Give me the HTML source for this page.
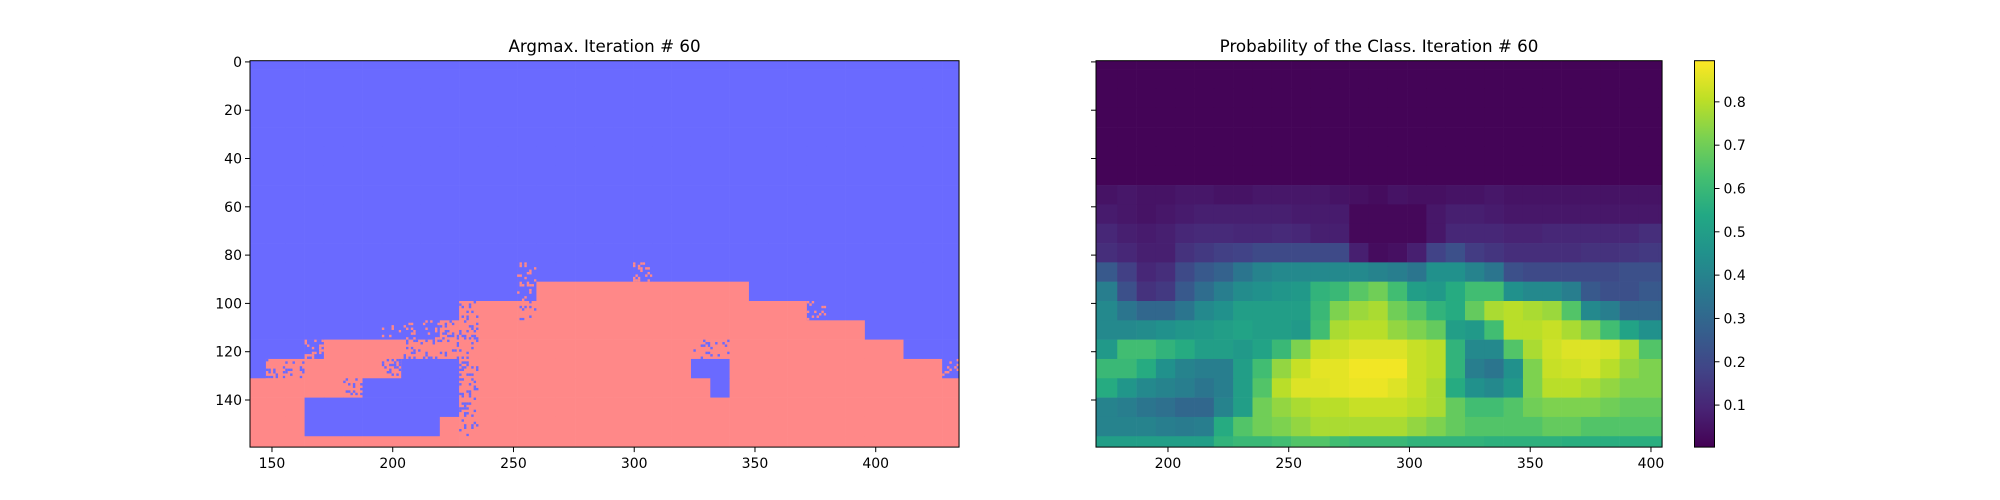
<!DOCTYPE html>
<html><head><meta charset="utf-8"><style>
html,body{margin:0;padding:0;background:#fff;}
svg{display:block;font-family:"DejaVu Sans","Liberation Sans",sans-serif;}
</style></head><body>
<svg id="fig" width="2000" height="500" viewBox="0 0 2000 500"></svg>
<script>
// ---- data ----
// Argmax class per 8x8 block (rows of 8-unit bands starting y=-4.5, cols starting x=139.5). B=blue, R=red, N=noisy red, n=noisy blue
const argmaxRows = [
"BBBBBBBBBBBBBBBBBBBBBBBBBBBBBBBBBBBBBB","BBBBBBBBBBBBBBBBBBBBBBBBBBBBBBBBBBBBBB","BBBBBBBBBBBBBBBBBBBBBBBBBBBBBBBBBBBBBB",
"BBBBBBBBBBBBBBBBBBBBBBBBBBBBBBBBBBBBBB","BBBBBBBBBBBBBBBBBBBBBBBBBBBBBBBBBBBBBB","BBBBBBBBBBBBBBBBBBBBBBBBBBBBBBBBBBBBBB",
"BBBBBBBBBBBBBBBBBBBBBBBBBBBBBBBBBBBBBB","BBBBBBBBBBBBBBBBBBBBBBBBBBBBBBBBBBBBBB","BBBBBBBBBBBBBBBBBBBBBBBBBBBBBBBBBBBBBB",
"BBBBBBBBBBBBBBBBBBBBBBBBBBBBBBBBBBBBBB","BBBBBBBBBBBBBBBBBBBBBBBBBBBBBBBBBBBBBB","BBBBBBBBBBBBBBnBBBBBnBBBBBBBBBBBBBBBBB",
"BBBBBBBBBBBBBBnRRRRRRRRRRRBBBBBBBBBBBB",
"BBBBBBBBBBBNRRNRRRRRRRRRRRRRRnBBBBBBBB",
"BBBBBBBnnnNNRRRRRRRRRRRRRRRRRRRRBBBBBB",
"BBBnRRRRNNNNRRRRRRRRRRRNNRRRRRRRRRBBBB",
"BNNRRRRNBBBNRRRRRRRRRRRBBRRRRRRRRRRRnB",
"RRRRRNBBBBBNRRRRRRRRRRRRBRRRRRRRRRRRRR",
"RRRBBBBBBBBNRRRRRRRRRRRRRRRRRRRRRRRRRR",
"RRRBBBBBBBRNRRRRRRRRRRRRRRRRRRRRRRRRRR",
"RRRRRRRRRRRRRRRRRRRRRRRRRRRRRRRRRRRRRR"];
// Probability heatmap rows 7..20 (rows 0..6 are ~0.01), 30 columns
const probTop = 0.01;
const probR7  = [0.05,0.06,0.05,0.05,0.06,0.06,0.05,0.05,0.06,0.06,0.06,0.06,0.05,0.04,0.03,0.05,0.04,0.04,0.05,0.05,0.06,0.05,0.05,0.05,0.05,0.05,0.05,0.05,0.05,0.05];
const probR8  = [0.07,0.06,0.05,0.06,0.07,0.08,0.08,0.08,0.08,0.08,0.07,0.07,0.07,0.02,0.02,0.02,0.02,0.06,0.08,0.08,0.07,0.06,0.06,0.06,0.06,0.06,0.06,0.06,0.06,0.06];
const probR9  = [0.10,0.08,0.07,0.08,0.10,0.11,0.11,0.10,0.10,0.11,0.10,0.08,0.08,0.02,0.02,0.02,0.02,0.06,0.10,0.10,0.10,0.09,0.09,0.10,0.10,0.10,0.10,0.10,0.12,0.12];
const probR10 = [0.12,0.10,0.08,0.08,0.13,0.15,0.17,0.18,0.20,0.20,0.20,0.20,0.20,0.08,0.03,0.04,0.08,0.18,0.22,0.16,0.14,0.12,0.12,0.12,0.12,0.13,0.13,0.14,0.15,0.15];
const probR11 = [0.25,0.17,0.10,0.12,0.20,0.25,0.28,0.35,0.40,0.42,0.42,0.42,0.42,0.42,0.40,0.38,0.35,0.45,0.45,0.40,0.35,0.22,0.20,0.20,0.20,0.20,0.20,0.22,0.22,0.22];
const probR12 = [0.38,0.22,0.13,0.15,0.25,0.32,0.38,0.43,0.45,0.47,0.48,0.58,0.60,0.66,0.70,0.62,0.50,0.48,0.55,0.62,0.62,0.45,0.42,0.42,0.38,0.25,0.22,0.22,0.25,0.25];
const probR13 = [0.42,0.35,0.30,0.30,0.35,0.42,0.45,0.50,0.50,0.50,0.50,0.60,0.72,0.76,0.78,0.70,0.65,0.58,0.55,0.68,0.78,0.80,0.78,0.76,0.65,0.42,0.38,0.30,0.30,0.30];
const probR14 = [0.42,0.42,0.43,0.45,0.47,0.48,0.50,0.52,0.50,0.50,0.48,0.62,0.78,0.80,0.80,0.75,0.72,0.68,0.50,0.48,0.62,0.80,0.80,0.82,0.78,0.72,0.62,0.52,0.45,0.45];
const probR15 = [0.48,0.62,0.62,0.58,0.55,0.50,0.50,0.48,0.52,0.60,0.72,0.82,0.83,0.85,0.85,0.85,0.82,0.80,0.58,0.42,0.42,0.65,0.78,0.83,0.85,0.85,0.84,0.78,0.65,0.65];
const probR16 = [0.60,0.60,0.55,0.45,0.40,0.38,0.38,0.50,0.62,0.75,0.82,0.86,0.86,0.88,0.88,0.88,0.82,0.80,0.58,0.38,0.35,0.45,0.72,0.82,0.83,0.84,0.80,0.75,0.72,0.72];
const probR17 = [0.55,0.47,0.42,0.40,0.38,0.35,0.38,0.50,0.65,0.80,0.85,0.85,0.86,0.87,0.87,0.85,0.82,0.78,0.55,0.45,0.42,0.48,0.72,0.80,0.80,0.78,0.75,0.72,0.72,0.72];
const probR18 = [0.40,0.38,0.35,0.33,0.30,0.30,0.40,0.50,0.70,0.75,0.78,0.80,0.80,0.82,0.82,0.82,0.80,0.78,0.68,0.62,0.62,0.65,0.70,0.72,0.72,0.72,0.70,0.68,0.68,0.68];
const probR19 = [0.40,0.40,0.40,0.38,0.37,0.38,0.55,0.65,0.70,0.72,0.75,0.78,0.78,0.78,0.78,0.78,0.75,0.72,0.68,0.65,0.65,0.65,0.65,0.68,0.68,0.65,0.65,0.65,0.65,0.65];
const probR20 = [0.50,0.50,0.50,0.50,0.50,0.50,0.58,0.60,0.60,0.62,0.65,0.65,0.62,0.60,0.60,0.60,0.58,0.58,0.58,0.58,0.57,0.57,0.57,0.57,0.56,0.56,0.56,0.56,0.56,0.56];
const leftYTicks = [0,20,40,60,80,100,120,140];
const leftXTicks = [150,200,250,300,350,400];
const rightXTicks = [200,250,300,350,400];
const cbarTicks = [0.1,0.2,0.3,0.4,0.5,0.6,0.7,0.8];
const cbarMin = 0.003, cbarMax = 0.895;

// ---- layout ----
const NS = "http://www.w3.org/2000/svg";
const svg = document.getElementById('fig');
const PX = 2.415;
const top0 = 60.7;
const L = {x0:250, xmin:140.9, xmax:434.5};
const R = {x0:1096, xmin:170.2, xmax:404.6};
const yPix = v => top0 + (v + 0.5) * PX;
const xL = v => L.x0 + (v - L.xmin) * PX;
const xR = v => R.x0 + (v - R.xmin) * PX;
const bottom = yPix(159.5);
function mk(tag, attrs, parent){const e=document.createElementNS(NS,tag);for(const k in attrs)e.setAttribute(k,attrs[k]);(parent||svg).appendChild(e);return e;}
const stops=["#440154","#482475","#414487","#355f8d","#2a788e","#21918c","#22a884","#44bf70","#7ad151","#bddf26","#fde725"];
function hx(h){return [1,3,5].map(i=>parseInt(h.substr(i,2),16));}
function viridis(v){let t=(v-cbarMin)/(cbarMax-cbarMin);t=Math.max(0,Math.min(1,t))*10;const i=Math.min(9,Math.floor(t)),f=t-i;const a=hx(stops[i]),b=hx(stops[i+1]);return `rgb(${a.map((c,k)=>Math.round(c+(b[k]-c)*f)).join(',')})`;}
const BLUE="#6a6aff", RED="#ff8888";

// ---- left argmax ----
const gL = mk('g',{});


const clipL = mk('clipPath',{id:'clipL'}); mk('rect',{x:L.x0,y:top0,width:(L.xmax-L.xmin)*PX,height:160*PX},clipL);
gL.setAttribute('clip-path','url(#clipL)');
function hash(a,b){let h=(a*374761393+b*668265263)^0x5bf03635;h=(h^(h>>>13))*1274126177;return ((h^(h>>>16))>>>0)/4294967296;}
argmaxRows.forEach((row,j)=>{
  const y0=-4.5+8*j;
  for(let k=0;k<row.length;k++){
    const c=row[k], x0=139.5+8*k;
    const base=(c==='R'||c==='N')?RED:BLUE;
    const r=mk('rect',{x:xL(x0),y:yPix(y0-0.5),width:8*PX+0.3,height:8*PX+0.3,fill:base},gL);
    
    
    if(c==='N'||c==='n'){
      const other=c==='N'?BLUE:RED;
      for(let a=0;a<8;a++)for(let b=0;b<8;b++){
        if(hash(x0*8+a,y0*8+b)<0.2){
          const p=mk('rect',{x:xL(x0+a),y:yPix(y0+b-0.5),width:PX,height:PX,fill:other},gL);
          
          
        }
      }
    }
  }
});

// ---- right heatmap ----
const probRows=[probR7,probR8,probR9,probR10,probR11,probR12,probR13,probR14,probR15,probR16,probR17,probR18,probR19,probR20];
const gR = mk('g',{});


const clipR = mk('clipPath',{id:'clipR'}); mk('rect',{x:R.x0,y:top0,width:(R.xmax-R.xmin)*PX,height:160*PX},clipR);
gR.setAttribute('clip-path','url(#clipR)');
for(let r=0;r<21;r++){
  const ya = r===0?-0.5:3.5+8*(r-1), yb = r===0?3.5:11.5+8*(r-1);
  for(let c=0;c<30;c++){
    const xa = c===0?R.xmin:179+8*(c-1), xb = c===0?179:187+8*(c-1);
    const v = r<7?probTop:probRows[r-7][c];
    const e=mk('rect',{x:xR(xa),y:yPix(ya-0.5),width:(xb-xa)*PX+0.3,height:(yb-ya)*PX+0.3,fill:viridis(v)},gR);
    
    
  }
}

// ---- axes ----
function frame(x,w,name){const f=mk('rect',{x:x,y:top0,width:w,height:bottom-top0,fill:'none',stroke:'#000','stroke-width':1});}
frame(L.x0,(L.xmax-L.xmin)*PX,'left-axes-frame');
frame(R.x0,(R.xmax-R.xmin)*PX,'right-axes-frame');
function text(x,y,s,anchor,size,name){const t=mk('text',{x:x,y:y,'text-anchor':anchor,'font-size':size,fill:'#000'});t.textContent=s;return t;}
leftYTicks.forEach(v=>{const y=yPix(v);mk('line',{x1:L.x0-5,x2:L.x0,y1:y,y2:y,stroke:'#000'});text(L.x0-8,y+5,String(v),'end',14,'left-y-tick-label');
  mk('line',{x1:R.x0-5,x2:R.x0,y1:y,y2:y,stroke:'#000'});});
leftXTicks.forEach(v=>{const x=xL(v);mk('line',{x1:x,x2:x,y1:bottom,y2:bottom+5,stroke:'#000'});text(x,bottom+21,String(v),'middle',14,'left-x-tick-label');});
rightXTicks.forEach(v=>{const x=xR(v);mk('line',{x1:x,x2:x,y1:bottom,y2:bottom+5,stroke:'#000'});text(x,bottom+21,String(v),'middle',14,'right-x-tick-label');});
text(L.x0+(L.xmax-L.xmin)*PX/2,52,'Argmax. Iteration # 60','middle',16.7,'left-title');
text(R.x0+(R.xmax-R.xmin)*PX/2,52,'Probability of the Class. Iteration # 60','middle',16.7,'right-title');

// ---- colorbar ----
const cb={x:1694.5,w:20,y0:top0,y1:bottom};
const defs=mk('defs',{});const grad=mk('linearGradient',{id:'vg',x1:0,y1:1,x2:0,y2:0},defs);
stops.forEach((s,i)=>mk('stop',{offset:i/10,'stop-color':s},grad));
const cbr=mk('rect',{x:cb.x,y:cb.y0,width:cb.w,height:cb.y1-cb.y0,fill:'url(#vg)',stroke:'#000','stroke-width':1});


const cbY=v=>cb.y1-(v-cbarMin)/(cbarMax-cbarMin)*(cb.y1-cb.y0);
cbarTicks.forEach(v=>{const y=cbY(v);mk('line',{x1:cb.x+cb.w,x2:cb.x+cb.w+5,y1:y,y2:y,stroke:'#000'});text(cb.x+cb.w+9,y+5,v.toFixed(1),'start',14,'colorbar-tick-label');});
</script>
</body></html>
